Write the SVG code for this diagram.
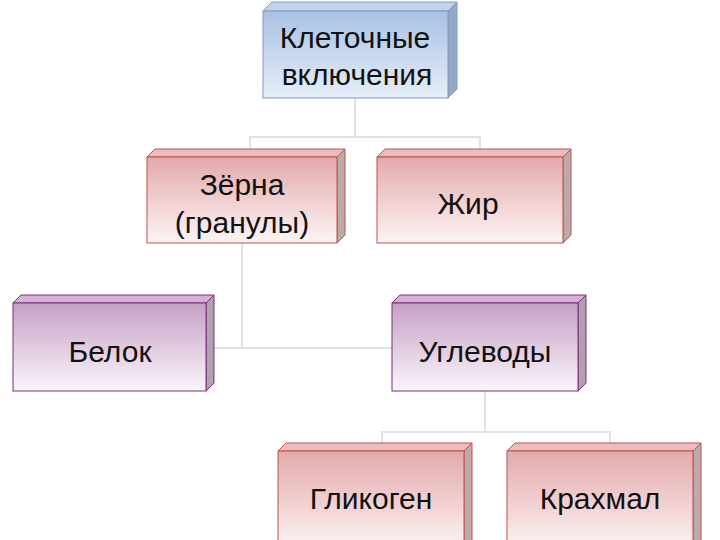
<svg xmlns="http://www.w3.org/2000/svg" width="720" height="540" viewBox="0 0 720 540">
<defs>
<linearGradient id="gb" x1="0" y1="0" x2="0" y2="1"><stop offset="0" stop-color="#a9c1e3"/><stop offset="1" stop-color="#e6eef8"/></linearGradient>
<linearGradient id="gr" x1="0" y1="0" x2="0" y2="1"><stop offset="0" stop-color="#e3a9ab"/><stop offset="1" stop-color="#fdf5f5"/></linearGradient>
<linearGradient id="gp" x1="0" y1="0" x2="0" y2="1"><stop offset="0" stop-color="#c59fc5"/><stop offset="1" stop-color="#fbf6fb"/></linearGradient>
</defs>
<style>
text{font-family:"Liberation Sans",Arial,sans-serif;font-size:30px;fill:#111;text-anchor:middle}
.c{fill:none;stroke:#dde3ea;stroke-width:2}
.b .f{fill:url(#gb);stroke:#7f9cc4}
.b .t{fill:#c3d3ea;stroke:#7f9cc4}
.b .s{fill:#93a9c6;stroke:#7f9cc4}
.r .f{fill:url(#gr);stroke:#c0504d}
.r .t{fill:#eebcbc;stroke:#c0504d}
.r .s{fill:#bcaaaa;stroke:#c0504d}
.p .f{fill:url(#gp);stroke:#7b2f7b}
.p .t{fill:#d5b2d5;stroke:#7b2f7b}
.p .s{fill:#b0a0b0;stroke:#7b2f7b}
</style>
<rect width="720" height="540" fill="#fff"/>
<g id="connectors">
<path class="c" d="M355 98V137M250 157V137H480V157"/>
<path class="c" d="M242 243V348M206 348H392"/>
<path class="c" d="M485 391V432M382 451V432H610V451"/>
</g>
<g id="n1" class="b"><path class="t" d="M263 11L272 2H457L448 11Z"/><path class="s" d="M448 11L457 2V89L448 98Z"/><rect class="f" x="263" y="11" width="185" height="87"/><text x="355" y="48">Клеточные</text><text x="357" y="85">включения</text></g>
<g id="n2" class="r"><path class="t" d="M147 157L155 149H345L337 157Z"/><path class="s" d="M337 157L345 149V235L337 243Z"/><rect class="f" x="147" y="157" width="190" height="86"/><text x="242" y="195">Зёрна</text><text x="242" y="233">(гранулы)</text></g>
<g id="n3" class="r"><path class="t" d="M377 157L385 149H571L563 157Z"/><path class="s" d="M563 157L571 149V235L563 243Z"/><rect class="f" x="377" y="157" width="186" height="86"/><text x="468" y="214">Жир</text></g>
<g id="n4" class="p"><path class="t" d="M13 303L21 295H214L206 303Z"/><path class="s" d="M206 303L214 295V383L206 391Z"/><rect class="f" x="13" y="303" width="193" height="88"/><text x="110" y="362">Белок</text></g>
<g id="n5" class="p"><path class="t" d="M392 303L400 295H586L578 303Z"/><path class="s" d="M578 303L586 295V383L578 391Z"/><rect class="f" x="392" y="303" width="186" height="88"/><text x="485" y="362">Углеводы</text></g>
<g id="n6" class="r"><path class="t" d="M278 451L286 443H472L464 451Z"/><path class="s" d="M464 451L472 443V540L464 548Z"/><rect class="f" x="278" y="451" width="186" height="100"/><text x="371" y="509">Гликоген</text></g>
<g id="n7" class="r"><path class="t" d="M507 451L515 443H701L693 451Z"/><path class="s" d="M693 451L701 443V540L693 548Z"/><rect class="f" x="507" y="451" width="186" height="100"/><text x="600" y="509">Крахмал</text></g>
</svg>
